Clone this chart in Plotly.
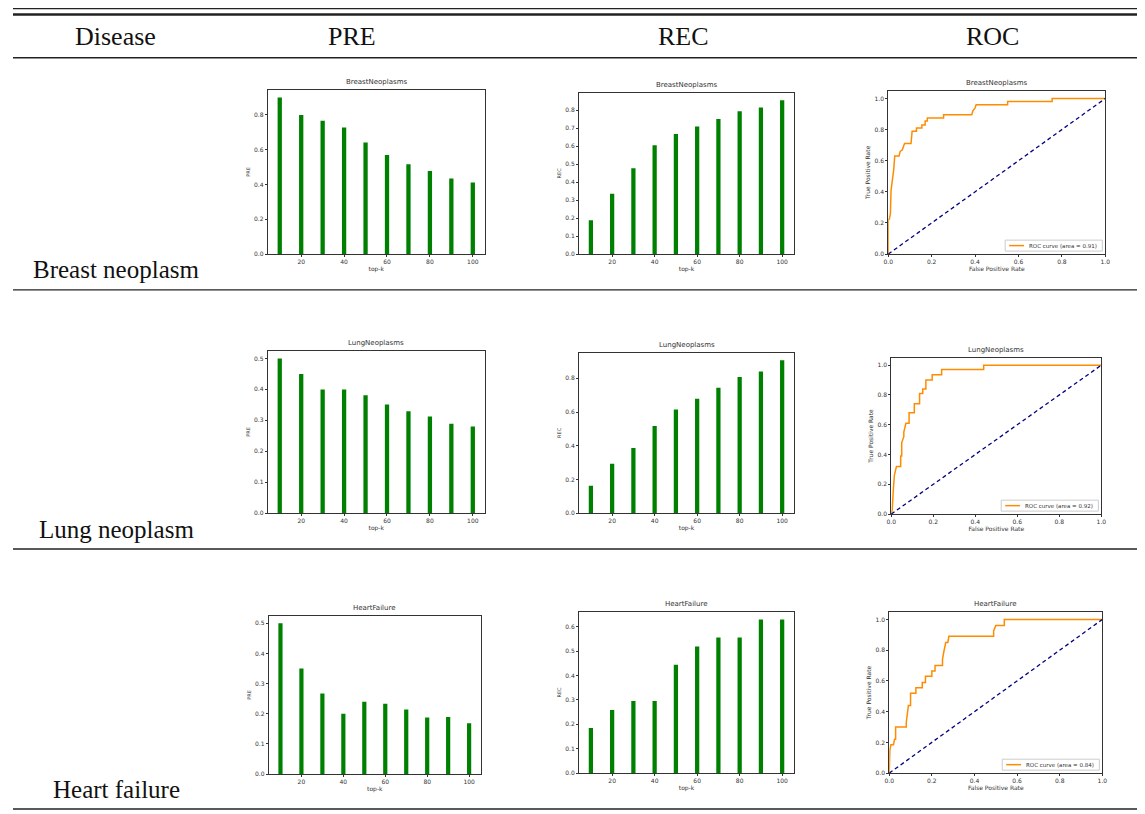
import plotly.graph_objects as go

# The page body has an 8px default margin, so the figure is offset by 8px.
OFF = 8
W, H = 1145 - OFF, 814 - OFF

# ---------------- data ----------------
top_k = [10, 20, 30, 40, 50, 60, 70, 80, 90, 100]

breast_pre = [0.90, 0.80, 0.767, 0.727, 0.642, 0.569, 0.517, 0.478, 0.434, 0.411]
breast_rec = [0.1875, 0.335, 0.478, 0.605, 0.668, 0.71, 0.752, 0.794, 0.815, 0.855]
lung_pre = [0.50, 0.45, 0.40, 0.40, 0.381, 0.351, 0.329, 0.3125, 0.289, 0.28]
lung_rec = [0.162, 0.293, 0.386, 0.517, 0.615, 0.679, 0.745, 0.808, 0.841, 0.907]
heart_pre = [0.50, 0.35, 0.267, 0.20, 0.24, 0.233, 0.214, 0.1875, 0.189, 0.169]
heart_rec = [0.185, 0.259, 0.296, 0.296, 0.444, 0.519, 0.556, 0.556, 0.63, 0.63]

breast_fpr = [0, 0.0, 0.005, 0.01, 0.013, 0.02, 0.025, 0.03, 0.05, 0.055, 0.065, 0.075, 0.105, 0.11,
              0.13, 0.13, 0.155, 0.155, 0.17, 0.17, 0.18, 0.18, 0.255, 0.255, 0.385, 0.39, 0.40, 0.405,
              0.55, 0.55, 0.755, 0.755, 1.0]
breast_tpr = [0, 0.22, 0.225, 0.26, 0.41, 0.48, 0.54, 0.63, 0.63, 0.66, 0.67, 0.71, 0.71, 0.79,
              0.79, 0.81, 0.81, 0.83, 0.83, 0.855, 0.855, 0.875, 0.875, 0.895, 0.895, 0.92, 0.94, 0.96,
              0.96, 0.98, 0.98, 1.0, 1.0]
lung_fpr = [0, 0.005, 0.01, 0.015, 0.015, 0.025, 0.045, 0.045, 0.05, 0.05, 0.06, 0.06, 0.065, 0.07,
            0.085, 0.085, 0.11, 0.11, 0.135, 0.135, 0.15, 0.15, 0.165, 0.165, 0.195, 0.195, 0.24, 0.24,
            0.44, 0.44, 1.0]
lung_tpr = [0, 0.03, 0.16, 0.23, 0.26, 0.32, 0.32, 0.39, 0.39, 0.48, 0.52, 0.55, 0.58, 0.61,
            0.61, 0.68, 0.68, 0.74, 0.74, 0.81, 0.81, 0.84, 0.84, 0.90, 0.90, 0.935, 0.935, 0.97,
            0.97, 1.0, 1.0]
heart_fpr = [0, 0, 0.003, 0.008, 0.02, 0.025, 0.03, 0.03, 0.08, 0.08, 0.09, 0.10, 0.10, 0.125, 0.125,
             0.155, 0.155, 0.17, 0.17, 0.2, 0.2, 0.215, 0.215, 0.25, 0.25, 0.255, 0.26, 0.265, 0.275,
             0.28, 0.49, 0.49, 0.5, 0.54, 0.54, 1.0]
heart_tpr = [0, 0.07, 0.15, 0.185, 0.185, 0.22, 0.22, 0.30, 0.30, 0.33, 0.44, 0.44, 0.52, 0.52, 0.555,
             0.555, 0.59, 0.59, 0.63, 0.63, 0.665, 0.665, 0.70, 0.70, 0.74, 0.78, 0.815, 0.85, 0.85,
             0.89, 0.89, 0.925, 0.96, 0.96, 1.0, 1.0]

auc_values = [0.91, 0.92, 0.84]
diseases = ["Breast neoplasm", "Lung neoplasm", "Heart failure"]
panel_titles = ["BreastNeoplasms", "LungNeoplasms", "HeartFailure"]
headers = ["Disease", "PRE", "REC", "ROC"]

pre_series = [breast_pre, lung_pre, heart_pre]
rec_series = [breast_rec, lung_rec, heart_rec]
roc_series = [(breast_fpr, breast_tpr), (lung_fpr, lung_tpr), (heart_fpr, heart_tpr)]
pre_dtick = [0.2, 0.1, 0.1]
rec_dtick = [0.1, 0.2, 0.1]

# ---------------- layout geometry (screen pixels: left, right, top, bottom) ----------------
panels = [
    [(265, 484, 90, 255), (579, 796, 93, 255), (891, 1110, 91, 255)],
    [(265, 484, 352, 515), (579, 796, 354, 515), (894, 1106, 359, 516)],
    [(266, 480, 618, 777), (579, 796, 614, 776), (892, 1107, 614, 776)],
]

def px(x):
    return (x - OFF) / W

def py(y):
    return 1 - (y - OFF) / H

fig = go.Figure()
layout = dict(
    width=W, height=H, margin=dict(l=0, r=0, t=0, b=0),
    paper_bgcolor="white", plot_bgcolor="white", showlegend=False,
    font=dict(family="DejaVu Sans", size=6, color="#333"),
)
annotations = []
shapes = []

tick_font = dict(family="DejaVu Sans", size=6, color="#333")
axis_common = dict(showline=True, linecolor="#333", linewidth=1, mirror=True,
                   ticks="outside", ticklen=2, tickcolor="#333", showgrid=False,
                   zeroline=False, tickfont=tick_font)

idx = 0
for r in range(3):
    for c in range(3):
        idx += 1
        l, rr, t, b = panels[r][c]
        xa = "xaxis" if idx == 1 else f"xaxis{idx}"
        ya = "yaxis" if idx == 1 else f"yaxis{idx}"
        xref = "x" if idx == 1 else f"x{idx}"
        yref = "y" if idx == 1 else f"y{idx}"
        if c < 2:
            vals = pre_series[r] if c == 0 else rec_series[r]
            fig.add_trace(go.Bar(x=top_k, y=vals, width=2, marker_color="#008000",
                                 marker_line_width=0, xaxis=xref, yaxis=yref, showlegend=False))
            layout[xa] = dict(axis_common, domain=[px(l), px(rr)], anchor=yref,
                              range=[4.4, 105.6], tickvals=[20, 40, 60, 80, 100],
                              title=dict(text="top-k", font=dict(size=6, color="#333"), standoff=2))
            ymax = max(vals) * 1.05
            layout[ya] = dict(axis_common, domain=[py(b), py(t)], anchor=xref,
                              range=[0, ymax], dtick=pre_dtick[r] if c == 0 else rec_dtick[r],
                              tick0=0, tickformat=".1f",
                              title=dict(text="PRE" if c == 0 else "REC",
                                         font=dict(size=5, color="#333"), standoff=3))
        else:
            fpr, tpr = roc_series[r]
            fig.add_trace(go.Scatter(x=fpr, y=tpr, mode="lines",
                                     line=dict(color="#FF8C00", width=1.5),
                                     name=f"ROC curve (area = {auc_values[r]:.2f})",
                                     xaxis=xref, yaxis=yref, showlegend=False))
            fig.add_trace(go.Scatter(x=[0, 1], y=[0, 1], mode="lines",
                                     line=dict(color="#000080", width=1.3, dash="4px,3px"),
                                     xaxis=xref, yaxis=yref, showlegend=False))
            layout[xa] = dict(axis_common, domain=[px(l), px(rr)], anchor=yref,
                              range=[0, 1], dtick=0.2, tickformat=".1f",
                              title=dict(text="False Positive Rate", font=dict(size=6, color="#333"),
                                         standoff=2))
            layout[ya] = dict(axis_common, domain=[py(b), py(t)], anchor=xref,
                              range=[0, 1.05], tickvals=[0, 0.2, 0.4, 0.6, 0.8, 1.0], tickformat=".1f",
                              title=dict(text="True Positive Rate", font=dict(size=6, color="#333"),
                                         standoff=3))
            # compact matplotlib-style legend box
            bx0, bx1, by0, by1 = rr - 101, rr - 3, b - 14, b - 3
            shapes.append(dict(type="rect", xref="paper", yref="paper",
                               x0=px(bx0), x1=px(bx1), y0=py(by1), y1=py(by0),
                               line=dict(color="#cccccc", width=1), fillcolor="rgba(255,255,255,0.8)"))
            ym = (by0 + by1) / 2
            shapes.append(dict(type="line", xref="paper", yref="paper",
                               x0=px(bx0 + 4), x1=px(bx0 + 19), y0=py(ym), y1=py(ym),
                               line=dict(color="#FF8C00", width=1.5)))
            annotations.append(dict(text=f"ROC curve (area = {auc_values[r]:.2f})",
                                    x=px(bx0 + 22), y=py(ym), xref="paper", yref="paper",
                                    xanchor="left", yanchor="middle", showarrow=False,
                                    font=dict(family="DejaVu Sans", size=5.5, color="#333")))
        # panel title
        annotations.append(dict(text=panel_titles[r], x=px((l + rr) / 2), y=py(t - 2),
                                xref="paper", yref="paper", xanchor="center", yanchor="bottom",
                                showarrow=False, font=dict(family="DejaVu Sans", size=7, color="#333")))

# table header
serif = "Liberation Serif"
header_x = [111, 350, 684, 996]
for hx, txt in zip(header_x, headers):
    annotations.append(dict(text=txt, x=px(hx), y=py(37), xref="paper", yref="paper",
                            xanchor="center", yanchor="middle", showarrow=False,
                            font=dict(family=serif, size=26, color="#111")))
row_label_y = [270, 531, 792]
for ry, txt in zip(row_label_y, diseases):
    annotations.append(dict(text=txt, x=px(112), y=py(ry), xref="paper", yref="paper",
                            xanchor="center", yanchor="middle", showarrow=False,
                            font=dict(family=serif, size=25, color="#111")))

# table rules
for yline, wline in [(8.6, 1.2), (14.5, 2.5), (58, 1.5), (291, 1.3), (551, 1.3), (812, 1.5)]:
    shapes.append(dict(type="line", xref="paper", yref="paper", x0=px(8), x1=1,
                       y0=py(yline), y1=py(yline), line=dict(color="#222", width=wline)))

layout["annotations"] = annotations
layout["shapes"] = shapes
fig.update_layout(**layout)
fig.write_html("out.html")
